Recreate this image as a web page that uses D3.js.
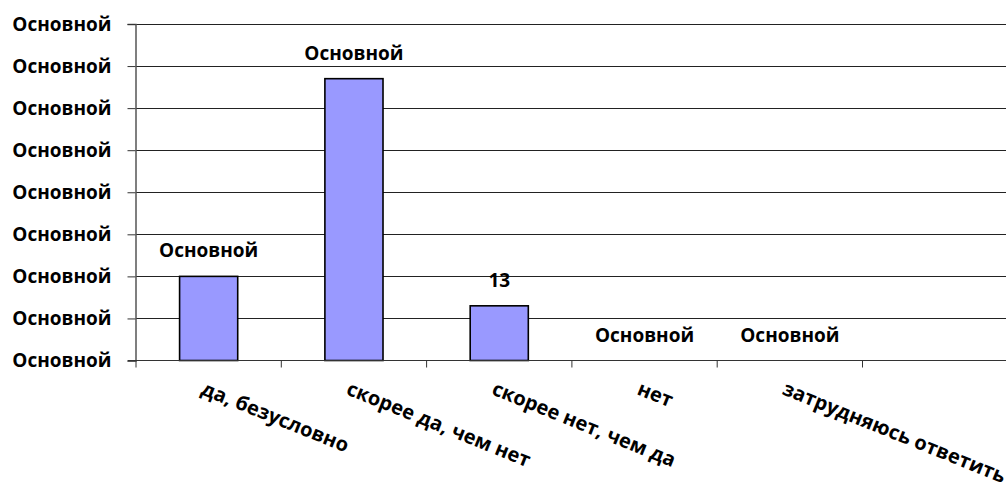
<!DOCTYPE html>
<html><head><meta charset="utf-8">
<script src="https://cdn.jsdelivr.net/npm/d3@7"></script>
<style>body{margin:0;background:#fff}svg{display:block}text{font-family:"Open Sans",sans-serif;font-weight:bold;fill:#000}</style>
</head><body><svg id="c" width="1006" height="482"></svg>
<script>
const categories = ["да, безусловно","скорее да, чем нет","скорее нет, чем да","нет","затрудняюсь ответить"];
const values = [20, 67, 13, 0, 0];
const dataLabels = ["Основной","Основной","13","Основной","Основной"];
const yTicks = [0,10,20,30,40,50,60,70,80];
const yTickLabels = ["Основной","Основной","Основной","Основной","Основной","Основной","Основной","Основной","Основной"];

const svg = d3.select("#c");
const W = 1006;
const x0 = 136, band = 145.3;
const x = d3.scaleBand().domain(categories).range([x0, x0 + band*categories.length]).paddingInner(0).paddingOuter(0);
const y = d3.scaleLinear().domain([0,80]).range([360.5, 24]);
const fs = 19;

// gridlines
svg.append("g").selectAll("line").data(yTicks.slice(1)).join("line")
  .attr("x1", x0).attr("x2", W).attr("y1", d=>Math.round(y(d))+0.5).attr("y2", d=>Math.round(y(d))+0.5)
  .attr("stroke","#222").attr("stroke-width",1);

// y axis
const yAxis = d3.axisLeft(y).tickValues(yTicks).tickSize(8).tickPadding(16)
  .tickFormat((d,i)=>yTickLabels[i]);
const gy = svg.append("g").attr("transform",`translate(${x0-0.5},0)`).call(yAxis);
gy.select(".domain").attr("stroke","#555").attr("stroke-width",1.5);
gy.selectAll(".tick line").attr("stroke","#333");
gy.selectAll(".tick text").style("font-size",fs+"px").style("font-family","'Open Sans',sans-serif").style("font-weight","bold").attr("fill","#000");

// bars
const bw = band*0.4;
svg.append("g").selectAll("rect").data(values).join("rect")
  .attr("x",(d,i)=>x(categories[i]) + (band-bw)/2)
  .attr("y",d=>y(d)).attr("width",bw).attr("height",d=>y(0)-y(d))
  .attr("fill","#9999FF").attr("stroke","#000").attr("stroke-width",1.6);

// x axis
const xAxis = d3.axisBottom(x).tickSize(0).tickFormat("");
const gx = svg.append("g").attr("transform",`translate(0,${y(0)})`).call(xAxis);
gx.select(".domain").remove();
gx.append("line").attr("x1",x0-8).attr("x2",W).attr("y1",0).attr("y2",0).attr("stroke","#333").attr("stroke-width",1.2);
const xtickPos = categories.map(c=>x(c)).concat([x(categories[categories.length-1])+band]);
gx.selectAll(".xt").data(xtickPos).join("line").attr("class","xt")
  .attr("x1",d=>d).attr("x2",d=>d).attr("y1",0).attr("y2",7).attr("stroke","#333");

// x labels
svg.append("g").selectAll("text").data(categories).join("text")
  .attr("transform",d=>`translate(${x(d)+band/2-3},${380}) rotate(22)`)
  .attr("dy","0.75em").attr("text-anchor","start").style("font-size","20px").text(d=>d);

// data labels
svg.append("g").selectAll("text").data(values).join("text")
  .attr("x",(d,i)=>x(categories[i])+band/2).attr("y",d=>y(d)-19)
  .attr("text-anchor","middle").style("font-size",fs+"px").text((d,i)=>dataLabels[i]);
</script></body></html>
